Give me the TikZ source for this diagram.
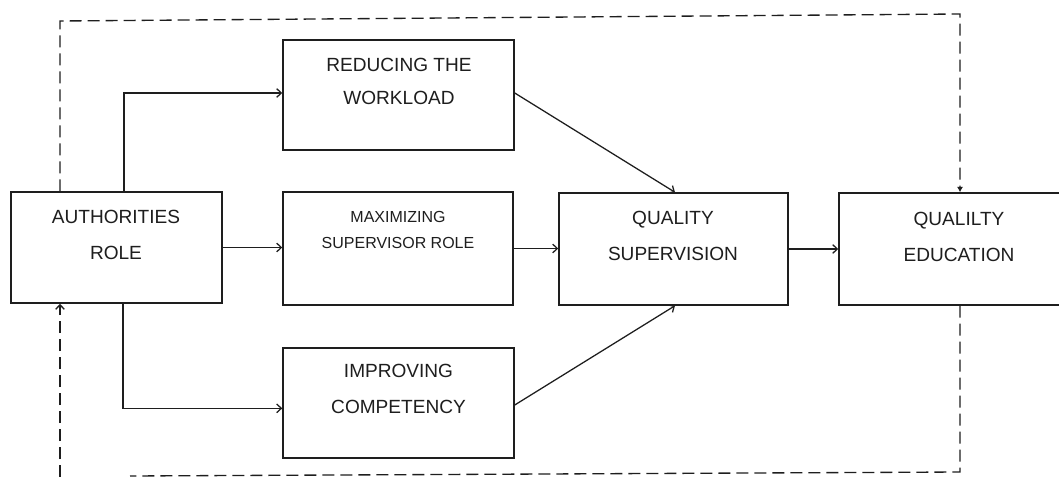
\documentclass[tikz,border=0pt]{standalone}
\usepackage{fontspec}
\setmainfont{Liberation Sans}
\usetikzlibrary{arrows.meta}
\definecolor{ink}{HTML}{1E1E1E}
\tikzset{
  box/.style={draw=ink, line width=1.1pt, inner sep=0pt, rectangle},
  txt/.style={align=center, text=ink, inner sep=0pt, font=\fontsize{14.3}{27}\selectfont},
  smalltxt/.style={align=center, text=ink, inner sep=0pt, font=\fontsize{12}{19.5}\selectfont},
  arr/.style={draw=ink, line width=0.95pt, -{Straight Barb[length=3.5pt,width=6.5pt]}},
  link/.style={draw=ink, line width=0.95pt},
  dashlink/.style={draw=ink, line width=1pt, dash pattern=on 9pt off 4.5pt},
  dasharr/.style={dashlink, -{Latex[length=4pt,width=4.5pt]}},
  dashbarb/.style={dashlink, -{Straight Barb[length=3.5pt,width=6.5pt]}}
}
\begin{document}
\begin{tikzpicture}[x=0.75pt,y=-0.75pt]
\useasboundingbox (0,0) rectangle (1059,477);
\clip (0,0) rectangle (1059,477);
\fill[white] (0,0) rectangle (1059,477);

% boxes
\node[box, minimum width=158.25pt, minimum height=83.25pt] (auth) at (116.5,247.5) {};
\node[box, minimum width=173.25pt, minimum height=82.5pt] (red) at (398.5,95) {};
\node[box, minimum width=172.5pt, minimum height=84.75pt] (max) at (398,248.5) {};
\node[box, minimum width=173.25pt, minimum height=82.5pt] (imp) at (398.5,403) {};
\node[box, minimum width=171.75pt, minimum height=84pt] (qs) at (673.5,249) {};
\node[box, minimum width=180pt, minimum height=84pt] (qe) at (959,249) {};

% texts
\node[txt] (authT) at (116,235) {AUTHORITIES\\ROLE};
\node[txt, font=\fontsize{14.3}{24.75}\selectfont] (redT) at (399,81.5) {REDUCING THE\\WORKLOAD};
\node[smalltxt] (maxT) at (398,230) {MAXIMIZING\\SUPERVISOR ROLE};
\node[txt] (impT) at (398.5,389) {IMPROVING\\COMPETENCY};
\node[txt] (qsT) at (673,236) {QUALITY\\SUPERVISION};
\node[txt] (qeT) at (959,237) {QUALILTY\\EDUCATION};

% solid connectors
\draw[arr] ([xshift=5.6pt]auth.north) |- ([yshift=1.5pt]red.west);
\draw[arr] ([xshift=4.9pt]auth.south) |- ([yshift=-4pt]imp.west);
\draw[arr] (auth.east) -- (auth.east -| max.west);
\draw[arr] ([yshift=1.5pt]red.east) -- ([xshift=1.1pt]qs.north);
\draw[arr] ([yshift=-1.5pt]imp.east) -- ([xshift=1.1pt]qs.south);
\draw[arr] (max.east) -- (max.east -| qs.west);
\draw[arr] (qs.east) -- (qs.east -| qe.west);

% dashed feedback loops
\coordinate (tl) at (60,21);
\coordinate (tr) at (960,14);
\coordinate (br) at (960,472);
\coordinate (bl) at (130,476);
\coordinate (lb) at (60,477);
\draw[dasharr] ([xshift=-42.4pt]auth.north) -- (tl) -- (tr) -- (tr |- qe.north);
\draw[dashlink] (qe.south -| br) -- (br) -- (bl);
\draw[dashbarb] (lb) -- (lb |- auth.south);
\end{tikzpicture}
\end{document}
